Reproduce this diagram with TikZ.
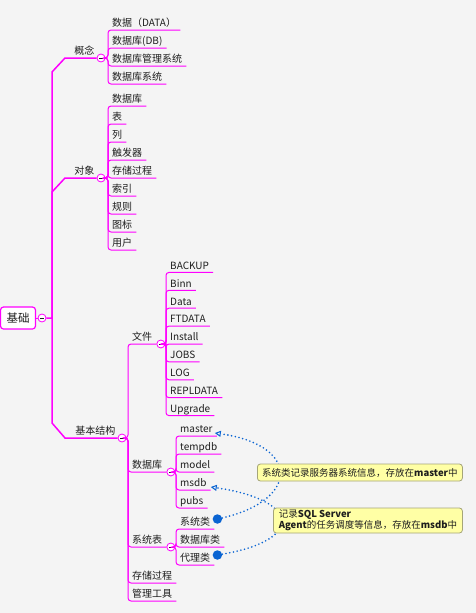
\documentclass[tikz,border=0pt]{standalone}
\usepackage{fontspec}
\setmainfont{Noto Sans CJK SC}
\usetikzlibrary{arrows.meta, calc, positioning}
\definecolor{mmag}{RGB}{255,0,255}
\definecolor{relblue}{RGB}{10,100,210}
\definecolor{notefill}{RGB}{255,255,165}
\definecolor{notedraw}{RGB}{165,165,120}
\definecolor{bggray}{RGB}{244,244,244}
\definecolor{ink}{RGB}{30,30,30}
\tikzset{
    rootBox/.style={draw=mmag, line width=1.2pt, rounded corners=3pt, fill=white, minimum width=35pt, minimum height=22pt, inner sep=0pt, font=\fontsize{11.5}{13}\selectfont, text=ink},
    mmFold/.style={circle, draw=mmag, fill=white, line width=0.8pt, minimum size=8pt, inner sep=0pt,
        path picture={\draw[ink, line width=0.9pt] ($(path picture bounding box.center)-(2pt,0)$) -- ($(path picture bounding box.center)+(2pt,0)$);}},
    mmLeaf/.style={anchor=south west, inner xsep=4pt, inner ysep=1pt, text height=8pt, text depth=2pt, font=\fontsize{10}{12}\selectfont, text=ink},
    mmTag/.style={anchor=south east, inner xsep=2pt, inner ysep=1pt, text height=8pt, text depth=2pt, font=\fontsize{10}{12}\selectfont, text=ink},
    mmTrunk/.style={draw=mmag, line width=1.5pt},
    mmBranch/.style={draw=mmag, line width=1pt, rounded corners=3pt},
    relLine/.style={relblue, line width=1.8pt, line cap=round, dash pattern=on 0pt off 3.8pt, -{Triangle[open, length=6pt, width=6pt, line width=1pt]}},
    relDot/.style={circle, fill=relblue, minimum size=9.5pt, inner sep=0pt},
    noteBox/.style={draw=notedraw, fill=notefill, line width=0.8pt, rounded corners=3pt, inner sep=0pt, font=\fontsize{9.5}{11}\selectfont, text=ink},
}
% 父节点 -> 子节点 (带下划线)
\newcommand{\drawLeafLink}[2]{
    \draw[mmBranch] (#1.east) -| (#2.south west) -- (#2.south east);
}
\newcommand{\drawTopicLink}[3]{
    \draw[mmBranch] (#1.east) -| (#2.south west) -- (#3.west);
}
\begin{document}
\begin{tikzpicture}[x=1pt, y=-1pt]

        \fill[bggray] (0,0) rectangle (476,613);
        \useasboundingbox (0,0) rectangle (476,613);

        % 中心主题
        \node[rootBox] (root) at (18,318) {基础};
        \node[mmFold] (r0) at (42,318) {};
        \coordinate (tr) at (52,318);
        \draw[mmBranch] (root.east) -- (r0.west);

        % 一级主题
        \node[mmFold] (c1) at (101,58) {};
        \node[mmFold] (c2) at (101,178) {};
        \node[mmFold] (c3) at (122,438) {};
        \node[mmTag] (t1) at (c1.west) {概念};
        \node[mmTag] (t2) at (c2.west) {对象};
        \node[mmTag] (t3) at (c3.west) {基本结构};

        \draw[mmTrunk] (r0.east) -- (tr) -- ($(tr |- c1)+(0,14)$) -- ($(tr |- c1)+(13,0)$) -- (c1.west);
        \draw[mmTrunk] (tr) -- ($(tr |- c2)+(0,14)$) -- ($(tr |- c2)+(13,0)$) -- (c2.west);
        \draw[mmTrunk] (tr) -- ($(tr |- c3)+(0,-15)$) -- ($(tr |- c3)+(13,0)$) -- (c3.west);

        % 概念
        \foreach \txt [count=\i] in {{数据（DATA）}, {数据库(DB)}, {数据库管理系统}, {数据库系统}}
            \node[mmLeaf] (a\i) at (108, 12+18*\i) {\txt};
        \foreach \i in {1,...,4} {\drawLeafLink{c1}{a\i}}

        % 对象
        \foreach \txt [count=\i] in {数据库, 表, 列, 触发器, 存储过程, 索引, 规则, 图标, 用户}
            \node[mmLeaf] (b\i) at (108, 88+18*\i) {\txt};
        \foreach \i in {1,...,9} {\drawLeafLink{c2}{b\i}}

        % 基本结构
        \node[mmLeaf] (t31) at (128,344) {文件};
        \node[mmFold, right=0pt of t31.south east] (c31) {};
        \node[mmLeaf] (t32) at (128,472) {数据库};
        \node[mmFold, right=0pt of t32.south east] (c32) {};
        \node[mmLeaf] (t33) at (128,547) {系统表};
        \node[mmFold, right=0pt of t33.south east] (c33) {};
        \node[mmLeaf] (t34) at (128,583) {存储过程};
        \node[mmLeaf] (t35) at (128,601) {管理工具};

        \drawTopicLink{c3}{t31}{c31}
        \drawTopicLink{c3}{t32}{c32}
        \drawTopicLink{c3}{t33}{c33}
        \drawLeafLink{c3}{t34}
        \drawLeafLink{c3}{t35}

        % 文件
        \foreach \txt [count=\i] in {BACKUP, Binn, Data, FTDATA, Install, JOBS, LOG, REPLDATA, Upgrade}
            \node[mmLeaf] (f\i) at (166, 254.5+17.9*\i) {\txt};
        \foreach \i in {1,...,9} {\drawLeafLink{c31}{f\i}}

        % 数据库
        \foreach \txt [count=\i] in {master, tempdb, model, msdb, pubs}
            \node[mmLeaf] (m\i) at (176, 418+18*\i) {\txt};
        \foreach \i in {1,...,5} {\drawLeafLink{c32}{m\i}}

        % 系统表
        \foreach \txt [count=\i] in {系统类, 数据库类, 代理类}
            \node[mmLeaf] (s\i) at (176, 511+18*\i) {\txt};
        \foreach \i in {1,...,3} {\drawLeafLink{c33}{s\i}}

        % 联系
        \node[relDot] (d1) at ($(s1.south east)+(3,-10)$) {};
        \node[relDot] (d2) at ($(s3.south east)+(3,-10)$) {};
        \coordinate (mt1) at ($(m1.south east)+(-2,-3)$);
        \coordinate (mt2) at ($(m4.south east)+(0,-3)$);
        \draw[relLine] (d1) .. controls (300,500) and (300,445) .. (mt1);
        \draw[relLine] (d2) .. controls (305,540) and (300,500) .. (mt2);

        \node[noteBox, minimum width=205pt, minimum height=17pt, anchor=west] (n1) at (257,472.5) {系统类记录服务器系统信息，存放在\textbf{master}中};
        \node[noteBox, minimum width=189pt, minimum height=25pt, anchor=west, align=left] (n2) at (273,520.5) {记录\textbf{SQL Server}\\\textbf{Agent}的任务调度等信息，存放在\textbf{msdb}中};

    \end{tikzpicture}
\end{document}
